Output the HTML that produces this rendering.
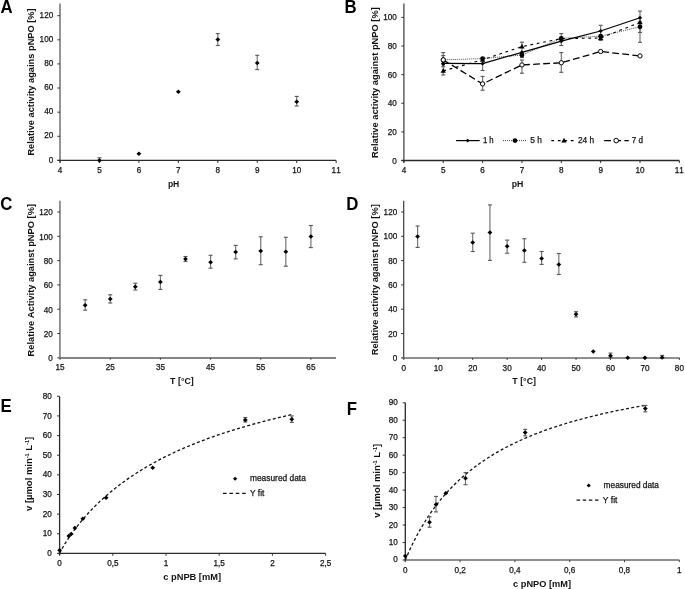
<!DOCTYPE html>
<html><head><meta charset="utf-8"><title>Figure</title>
<style>
html,body{margin:0;padding:0;background:#fff;}
body{width:685px;height:589px;overflow:hidden;}
svg{display:block;font-family:"Liberation Sans",sans-serif;will-change:transform;font-variant-ligatures:none;font-kerning:none;}
</style></head><body>
<svg width="685" height="589" viewBox="0 0 685 589">
<rect width="685" height="589" fill="#fff"/>
<line x1="60" y1="3.5" x2="60" y2="162.8" stroke="#8a8a8a" stroke-width="1.8"/>
<line x1="57.4" y1="160.4" x2="60" y2="160.4" stroke="#333" stroke-width="1"/>
<text x="53.2" y="162.6" font-size="8.5" text-anchor="end" fill="#111" stroke="#111" stroke-width="0.25" textLength="4.53" lengthAdjust="spacingAndGlyphs">0</text>
<line x1="57.4" y1="136.28" x2="60" y2="136.28" stroke="#333" stroke-width="1"/>
<text x="53.2" y="138.48" font-size="8.5" text-anchor="end" fill="#111" stroke="#111" stroke-width="0.25" textLength="9.06" lengthAdjust="spacingAndGlyphs">20</text>
<line x1="57.4" y1="112.16" x2="60" y2="112.16" stroke="#333" stroke-width="1"/>
<text x="53.2" y="114.36" font-size="8.5" text-anchor="end" fill="#111" stroke="#111" stroke-width="0.25" textLength="9.06" lengthAdjust="spacingAndGlyphs">40</text>
<line x1="57.4" y1="88.04" x2="60" y2="88.04" stroke="#333" stroke-width="1"/>
<text x="53.2" y="90.24" font-size="8.5" text-anchor="end" fill="#111" stroke="#111" stroke-width="0.25" textLength="9.06" lengthAdjust="spacingAndGlyphs">60</text>
<line x1="57.4" y1="63.92" x2="60" y2="63.92" stroke="#333" stroke-width="1"/>
<text x="53.2" y="66.12" font-size="8.5" text-anchor="end" fill="#111" stroke="#111" stroke-width="0.25" textLength="9.06" lengthAdjust="spacingAndGlyphs">80</text>
<line x1="57.4" y1="39.8" x2="60" y2="39.8" stroke="#333" stroke-width="1"/>
<text x="53.2" y="42" font-size="8.5" text-anchor="end" fill="#111" stroke="#111" stroke-width="0.25" textLength="13.59" lengthAdjust="spacingAndGlyphs">100</text>
<line x1="57.4" y1="15.68" x2="60" y2="15.68" stroke="#333" stroke-width="1"/>
<text x="53.2" y="17.88" font-size="8.5" text-anchor="end" fill="#111" stroke="#111" stroke-width="0.25" textLength="13.59" lengthAdjust="spacingAndGlyphs">120</text>
<line x1="57.5" y1="160.4" x2="336.15" y2="160.4" stroke="#2a2a2a" stroke-width="1.3"/>
<line x1="60" y1="160.4" x2="60" y2="163" stroke="#333" stroke-width="1"/>
<text x="60" y="173" font-size="8.5" text-anchor="middle" fill="#111" stroke="#111" stroke-width="0.25" textLength="4.53" lengthAdjust="spacingAndGlyphs">4</text>
<line x1="99.45" y1="160.4" x2="99.45" y2="163" stroke="#333" stroke-width="1"/>
<text x="99.45" y="173" font-size="8.5" text-anchor="middle" fill="#111" stroke="#111" stroke-width="0.25" textLength="4.53" lengthAdjust="spacingAndGlyphs">5</text>
<line x1="138.9" y1="160.4" x2="138.9" y2="163" stroke="#333" stroke-width="1"/>
<text x="138.9" y="173" font-size="8.5" text-anchor="middle" fill="#111" stroke="#111" stroke-width="0.25" textLength="4.53" lengthAdjust="spacingAndGlyphs">6</text>
<line x1="178.35" y1="160.4" x2="178.35" y2="163" stroke="#333" stroke-width="1"/>
<text x="178.35" y="173" font-size="8.5" text-anchor="middle" fill="#111" stroke="#111" stroke-width="0.25" textLength="4.53" lengthAdjust="spacingAndGlyphs">7</text>
<line x1="217.8" y1="160.4" x2="217.8" y2="163" stroke="#333" stroke-width="1"/>
<text x="217.8" y="173" font-size="8.5" text-anchor="middle" fill="#111" stroke="#111" stroke-width="0.25" textLength="4.53" lengthAdjust="spacingAndGlyphs">8</text>
<line x1="257.25" y1="160.4" x2="257.25" y2="163" stroke="#333" stroke-width="1"/>
<text x="257.25" y="173" font-size="8.5" text-anchor="middle" fill="#111" stroke="#111" stroke-width="0.25" textLength="4.53" lengthAdjust="spacingAndGlyphs">9</text>
<line x1="296.7" y1="160.4" x2="296.7" y2="163" stroke="#333" stroke-width="1"/>
<text x="296.7" y="173" font-size="8.5" text-anchor="middle" fill="#111" stroke="#111" stroke-width="0.25" textLength="9.06" lengthAdjust="spacingAndGlyphs">10</text>
<line x1="336.15" y1="160.4" x2="336.15" y2="163" stroke="#333" stroke-width="1"/>
<text x="336.15" y="173" font-size="8.5" text-anchor="middle" fill="#111" stroke="#111" stroke-width="0.25" textLength="9.06" lengthAdjust="spacingAndGlyphs">11</text>
<line x1="99.45" y1="157.75" x2="99.45" y2="160.4" stroke="#777" stroke-width="1.2"/>
<line x1="97.45" y1="157.75" x2="101.45" y2="157.75" stroke="#555" stroke-width="1.1"/>
<line x1="97.45" y1="160.4" x2="101.45" y2="160.4" stroke="#555" stroke-width="1.1"/>
<line x1="217.8" y1="33.6" x2="217.8" y2="45.5" stroke="#777" stroke-width="1.2"/>
<line x1="215.8" y1="33.6" x2="219.8" y2="33.6" stroke="#555" stroke-width="1.1"/>
<line x1="215.8" y1="45.5" x2="219.8" y2="45.5" stroke="#555" stroke-width="1.1"/>
<line x1="257.25" y1="55.3" x2="257.25" y2="69.6" stroke="#777" stroke-width="1.2"/>
<line x1="255.25" y1="55.3" x2="259.25" y2="55.3" stroke="#555" stroke-width="1.1"/>
<line x1="255.25" y1="69.6" x2="259.25" y2="69.6" stroke="#555" stroke-width="1.1"/>
<line x1="296.7" y1="96.4" x2="296.7" y2="106" stroke="#777" stroke-width="1.2"/>
<line x1="294.7" y1="96.4" x2="298.7" y2="96.4" stroke="#555" stroke-width="1.1"/>
<line x1="294.7" y1="106" x2="298.7" y2="106" stroke="#555" stroke-width="1.1"/>
<path d="M99.45 158.17L101.85 160.4L99.45 162.63L97.05 160.4Z" fill="#000"/>
<path d="M138.9 151.53L141.3 153.77L138.9 156L136.5 153.77Z" fill="#000"/>
<path d="M178.35 89.55L180.75 91.78L178.35 94.01L175.95 91.78Z" fill="#000"/>
<path d="M217.8 37.33L220.2 39.56L217.8 41.79L215.4 39.56Z" fill="#000"/>
<path d="M257.25 60.72L259.65 62.96L257.25 65.19L254.85 62.96Z" fill="#000"/>
<path d="M296.7 99.44L299.1 101.67L296.7 103.9L294.3 101.67Z" fill="#000"/>
<text x="173.6" y="186.7" font-size="9.3" text-anchor="middle" fill="#111" font-weight="bold" textLength="11.4" lengthAdjust="spacingAndGlyphs">pH</text>
<text transform="translate(34,155.6) rotate(-90)" font-size="9.3" font-weight="bold" fill="#111" textLength="147.3" lengthAdjust="spacingAndGlyphs">Relative activity agains pNPO [%]</text>
<text transform="translate(0.4,12.9) scale(1,1.08)" font-size="16.8" font-weight="bold" fill="#000">A</text>
<line x1="403.9" y1="3.5" x2="403.9" y2="162.8" stroke="#3a3a3a" stroke-width="1.2"/>
<line x1="401.3" y1="160.5" x2="403.9" y2="160.5" stroke="#333" stroke-width="1"/>
<text x="396.9" y="163.5" font-size="8.5" text-anchor="end" fill="#111" stroke="#111" stroke-width="0.25" textLength="4.53" lengthAdjust="spacingAndGlyphs">0</text>
<line x1="401.3" y1="131.88" x2="403.9" y2="131.88" stroke="#333" stroke-width="1"/>
<text x="396.9" y="134.88" font-size="8.5" text-anchor="end" fill="#111" stroke="#111" stroke-width="0.25" textLength="9.06" lengthAdjust="spacingAndGlyphs">20</text>
<line x1="401.3" y1="103.26" x2="403.9" y2="103.26" stroke="#333" stroke-width="1"/>
<text x="396.9" y="106.26" font-size="8.5" text-anchor="end" fill="#111" stroke="#111" stroke-width="0.25" textLength="9.06" lengthAdjust="spacingAndGlyphs">40</text>
<line x1="401.3" y1="74.64" x2="403.9" y2="74.64" stroke="#333" stroke-width="1"/>
<text x="396.9" y="77.64" font-size="8.5" text-anchor="end" fill="#111" stroke="#111" stroke-width="0.25" textLength="9.06" lengthAdjust="spacingAndGlyphs">60</text>
<line x1="401.3" y1="46.02" x2="403.9" y2="46.02" stroke="#333" stroke-width="1"/>
<text x="396.9" y="49.02" font-size="8.5" text-anchor="end" fill="#111" stroke="#111" stroke-width="0.25" textLength="9.06" lengthAdjust="spacingAndGlyphs">80</text>
<line x1="401.3" y1="17.4" x2="403.9" y2="17.4" stroke="#333" stroke-width="1"/>
<text x="396.9" y="20.4" font-size="8.5" text-anchor="end" fill="#111" stroke="#111" stroke-width="0.25" textLength="13.59" lengthAdjust="spacingAndGlyphs">100</text>
<line x1="401.5" y1="160.5" x2="679.35" y2="160.5" stroke="#2a2a2a" stroke-width="1.3"/>
<line x1="403.9" y1="160.5" x2="403.9" y2="163.1" stroke="#333" stroke-width="1"/>
<text x="403.9" y="173" font-size="8.5" text-anchor="middle" fill="#111" stroke="#111" stroke-width="0.25" textLength="4.53" lengthAdjust="spacingAndGlyphs">4</text>
<line x1="443.25" y1="160.5" x2="443.25" y2="163.1" stroke="#333" stroke-width="1"/>
<text x="443.25" y="173" font-size="8.5" text-anchor="middle" fill="#111" stroke="#111" stroke-width="0.25" textLength="4.53" lengthAdjust="spacingAndGlyphs">5</text>
<line x1="482.6" y1="160.5" x2="482.6" y2="163.1" stroke="#333" stroke-width="1"/>
<text x="482.6" y="173" font-size="8.5" text-anchor="middle" fill="#111" stroke="#111" stroke-width="0.25" textLength="4.53" lengthAdjust="spacingAndGlyphs">6</text>
<line x1="521.95" y1="160.5" x2="521.95" y2="163.1" stroke="#333" stroke-width="1"/>
<text x="521.95" y="173" font-size="8.5" text-anchor="middle" fill="#111" stroke="#111" stroke-width="0.25" textLength="4.53" lengthAdjust="spacingAndGlyphs">7</text>
<line x1="561.3" y1="160.5" x2="561.3" y2="163.1" stroke="#333" stroke-width="1"/>
<text x="561.3" y="173" font-size="8.5" text-anchor="middle" fill="#111" stroke="#111" stroke-width="0.25" textLength="4.53" lengthAdjust="spacingAndGlyphs">8</text>
<line x1="600.65" y1="160.5" x2="600.65" y2="163.1" stroke="#333" stroke-width="1"/>
<text x="600.65" y="173" font-size="8.5" text-anchor="middle" fill="#111" stroke="#111" stroke-width="0.25" textLength="4.53" lengthAdjust="spacingAndGlyphs">9</text>
<line x1="640" y1="160.5" x2="640" y2="163.1" stroke="#333" stroke-width="1"/>
<text x="640" y="173" font-size="8.5" text-anchor="middle" fill="#111" stroke="#111" stroke-width="0.25" textLength="9.06" lengthAdjust="spacingAndGlyphs">10</text>
<line x1="679.35" y1="160.5" x2="679.35" y2="163.1" stroke="#333" stroke-width="1"/>
<text x="679.35" y="173" font-size="8.5" text-anchor="middle" fill="#111" stroke="#111" stroke-width="0.25" textLength="9.06" lengthAdjust="spacingAndGlyphs">11</text>
<line x1="443.25" y1="52.6" x2="443.25" y2="66.7" stroke="#777" stroke-width="1.2"/>
<line x1="441.25" y1="52.6" x2="445.25" y2="52.6" stroke="#555" stroke-width="1.1"/>
<line x1="441.25" y1="66.7" x2="445.25" y2="66.7" stroke="#555" stroke-width="1.1"/>
<line x1="443.25" y1="55.6" x2="443.25" y2="75" stroke="#777" stroke-width="1.2"/>
<line x1="441.25" y1="55.6" x2="445.25" y2="55.6" stroke="#555" stroke-width="1.1"/>
<line x1="441.25" y1="75" x2="445.25" y2="75" stroke="#555" stroke-width="1.1"/>
<line x1="482.6" y1="58" x2="482.6" y2="70.5" stroke="#777" stroke-width="1.2"/>
<line x1="480.6" y1="58" x2="484.6" y2="58" stroke="#555" stroke-width="1.1"/>
<line x1="480.6" y1="70.5" x2="484.6" y2="70.5" stroke="#555" stroke-width="1.1"/>
<line x1="482.6" y1="76.4" x2="482.6" y2="90.2" stroke="#777" stroke-width="1.2"/>
<line x1="480.6" y1="76.4" x2="484.6" y2="76.4" stroke="#555" stroke-width="1.1"/>
<line x1="480.6" y1="90.2" x2="484.6" y2="90.2" stroke="#555" stroke-width="1.1"/>
<line x1="521.95" y1="42.2" x2="521.95" y2="57.5" stroke="#777" stroke-width="1.2"/>
<line x1="519.95" y1="42.2" x2="523.95" y2="42.2" stroke="#555" stroke-width="1.1"/>
<line x1="519.95" y1="57.5" x2="523.95" y2="57.5" stroke="#555" stroke-width="1.1"/>
<line x1="521.95" y1="60" x2="521.95" y2="73.2" stroke="#777" stroke-width="1.2"/>
<line x1="519.95" y1="60" x2="523.95" y2="60" stroke="#555" stroke-width="1.1"/>
<line x1="519.95" y1="73.2" x2="523.95" y2="73.2" stroke="#555" stroke-width="1.1"/>
<line x1="561.3" y1="33.6" x2="561.3" y2="45.5" stroke="#777" stroke-width="1.2"/>
<line x1="559.3" y1="33.6" x2="563.3" y2="33.6" stroke="#555" stroke-width="1.1"/>
<line x1="559.3" y1="45.5" x2="563.3" y2="45.5" stroke="#555" stroke-width="1.1"/>
<line x1="561.3" y1="52.6" x2="561.3" y2="72.3" stroke="#777" stroke-width="1.2"/>
<line x1="559.3" y1="52.6" x2="563.3" y2="52.6" stroke="#555" stroke-width="1.1"/>
<line x1="559.3" y1="72.3" x2="563.3" y2="72.3" stroke="#555" stroke-width="1.1"/>
<line x1="600.65" y1="25.3" x2="600.65" y2="40.4" stroke="#777" stroke-width="1.2"/>
<line x1="598.65" y1="25.3" x2="602.65" y2="25.3" stroke="#555" stroke-width="1.1"/>
<line x1="598.65" y1="40.4" x2="602.65" y2="40.4" stroke="#555" stroke-width="1.1"/>
<line x1="640" y1="11.1" x2="640" y2="42.3" stroke="#777" stroke-width="1.2"/>
<line x1="638" y1="11.1" x2="642" y2="11.1" stroke="#555" stroke-width="1.1"/>
<line x1="638" y1="42.3" x2="642" y2="42.3" stroke="#555" stroke-width="1.1"/>
<line x1="640" y1="22" x2="640" y2="32.4" stroke="#777" stroke-width="1.2"/>
<line x1="638" y1="22" x2="642" y2="22" stroke="#555" stroke-width="1.1"/>
<line x1="638" y1="32.4" x2="642" y2="32.4" stroke="#555" stroke-width="1.1"/>
<polyline points="443.25,59.9 482.6,83.9 521.95,64.9 561.3,62.8 600.65,51.5 640,55.9" fill="none" stroke="#000" stroke-width="1.3" stroke-dasharray="6.8,3.3"/>
<polyline points="443.25,70.9 482.6,59.8 521.95,46.6 561.3,38.6 600.65,38 640,22.4" fill="none" stroke="#000" stroke-width="1.1" stroke-dasharray="2.8,3.7"/>
<polyline points="443.25,59.8 482.6,58.6 521.95,55 561.3,38.3 600.65,36.2 640,26.8" fill="none" stroke="#333" stroke-width="0.9" stroke-dasharray="1,1"/>
<polyline points="443.25,63.4 482.6,63.6 521.95,52.3 561.3,41.2 600.65,31 640,17.8" fill="none" stroke="#000" stroke-width="1.2"/>
<path d="M443.25 68.1L445.91 72.86L440.59 72.86Z" fill="#000"/>
<path d="M482.6 57L485.26 61.76L479.94 61.76Z" fill="#000"/>
<path d="M521.95 43.8L524.61 48.56L519.29 48.56Z" fill="#000"/>
<path d="M561.3 35.8L563.96 40.56L558.64 40.56Z" fill="#000"/>
<path d="M600.65 35.2L603.31 39.96L597.99 39.96Z" fill="#000"/>
<path d="M640 19.6L642.66 24.36L637.34 24.36Z" fill="#000"/>
<circle cx="443.25" cy="59.8" r="2.4" fill="#000"/>
<circle cx="482.6" cy="58.6" r="2.4" fill="#000"/>
<circle cx="521.95" cy="55" r="2.4" fill="#000"/>
<circle cx="561.3" cy="38.3" r="2.4" fill="#000"/>
<circle cx="600.65" cy="36.2" r="2.4" fill="#000"/>
<circle cx="640" cy="26.8" r="2.4" fill="#000"/>
<path d="M443.25 61.4L445.4 63.4L443.25 65.4L441.1 63.4Z" fill="#000"/>
<path d="M482.6 61.6L484.75 63.6L482.6 65.6L480.45 63.6Z" fill="#000"/>
<path d="M521.95 50.3L524.1 52.3L521.95 54.3L519.8 52.3Z" fill="#000"/>
<path d="M561.3 39.2L563.45 41.2L561.3 43.2L559.15 41.2Z" fill="#000"/>
<path d="M600.65 29L602.8 31L600.65 33L598.5 31Z" fill="#000"/>
<path d="M640 15.8L642.15 17.8L640 19.8L637.85 17.8Z" fill="#000"/>
<circle cx="443.25" cy="63.8" r="1.9" fill="#000"/>
<circle cx="443.25" cy="59.9" r="2.15" fill="#fff" stroke="#000" stroke-width="1"/>
<circle cx="482.6" cy="83.9" r="2.15" fill="#fff" stroke="#000" stroke-width="1"/>
<circle cx="521.95" cy="64.9" r="2.15" fill="#fff" stroke="#000" stroke-width="1"/>
<circle cx="561.3" cy="62.8" r="2.15" fill="#fff" stroke="#000" stroke-width="1"/>
<circle cx="600.65" cy="51.5" r="2.15" fill="#fff" stroke="#000" stroke-width="1"/>
<circle cx="640" cy="55.9" r="2.15" fill="#fff" stroke="#000" stroke-width="1"/>
<line x1="456.1" y1="140.6" x2="479.7" y2="140.6" stroke="#000" stroke-width="1.2"/>
<path d="M467.7 138.65L469.8 140.6L467.7 142.55L465.6 140.6Z" fill="#000"/>
<text x="482.9" y="142.6" font-size="8.5" text-anchor="start" fill="#111" stroke="#111" stroke-width="0.25" textLength="10.8" lengthAdjust="spacingAndGlyphs">1 h</text>
<line x1="503" y1="140.6" x2="527.1" y2="140.6" stroke="#333" stroke-width="0.9" stroke-dasharray="1,1"/>
<circle cx="515" cy="140.6" r="2.4" fill="#000"/>
<text x="530.3" y="142.6" font-size="8.5" text-anchor="start" fill="#111" stroke="#111" stroke-width="0.25" textLength="11.6" lengthAdjust="spacingAndGlyphs">5 h</text>
<line x1="551.3" y1="140.6" x2="573.9" y2="140.6" stroke="#000" stroke-width="1.1" stroke-dasharray="2.8,3.7"/>
<path d="M564 137.8L566.66 142.56L561.34 142.56Z" fill="#000"/>
<text x="577.9" y="142.6" font-size="8.5" text-anchor="start" fill="#111" stroke="#111" stroke-width="0.25" textLength="16.2" lengthAdjust="spacingAndGlyphs">24 h</text>
<line x1="604.2" y1="140.6" x2="628.8" y2="140.6" stroke="#000" stroke-width="1.3" stroke-dasharray="6.8,3.3"/>
<circle cx="616.2" cy="140.6" r="2.3" fill="#fff" stroke="#000" stroke-width="1"/>
<text x="631.7" y="142.6" font-size="8.5" text-anchor="start" fill="#111" stroke="#111" stroke-width="0.25" textLength="11.3" lengthAdjust="spacingAndGlyphs">7 d</text>
<text x="517.6" y="186.7" font-size="9.3" text-anchor="middle" fill="#111" font-weight="bold" textLength="11.7" lengthAdjust="spacingAndGlyphs">pH</text>
<text transform="translate(377.5,158) rotate(-90)" font-size="9.3" font-weight="bold" fill="#111" textLength="150.8" lengthAdjust="spacingAndGlyphs">Relative activity against pNPO [%]</text>
<text transform="translate(344.6,12.8) scale(1,1.08)" font-size="16.8" font-weight="bold" fill="#000">B</text>
<line x1="59.9" y1="200.7" x2="59.9" y2="358.4" stroke="#8a8a8a" stroke-width="1.8"/>
<line x1="57.3" y1="357.8" x2="59.9" y2="357.8" stroke="#333" stroke-width="1"/>
<text x="52.9" y="361.2" font-size="8.5" text-anchor="end" fill="#111" stroke="#111" stroke-width="0.25" textLength="4.53" lengthAdjust="spacingAndGlyphs">0</text>
<line x1="57.3" y1="333.5" x2="59.9" y2="333.5" stroke="#333" stroke-width="1"/>
<text x="52.9" y="336.9" font-size="8.5" text-anchor="end" fill="#111" stroke="#111" stroke-width="0.25" textLength="9.06" lengthAdjust="spacingAndGlyphs">20</text>
<line x1="57.3" y1="309.2" x2="59.9" y2="309.2" stroke="#333" stroke-width="1"/>
<text x="52.9" y="312.6" font-size="8.5" text-anchor="end" fill="#111" stroke="#111" stroke-width="0.25" textLength="9.06" lengthAdjust="spacingAndGlyphs">40</text>
<line x1="57.3" y1="284.9" x2="59.9" y2="284.9" stroke="#333" stroke-width="1"/>
<text x="52.9" y="288.3" font-size="8.5" text-anchor="end" fill="#111" stroke="#111" stroke-width="0.25" textLength="9.06" lengthAdjust="spacingAndGlyphs">60</text>
<line x1="57.3" y1="260.6" x2="59.9" y2="260.6" stroke="#333" stroke-width="1"/>
<text x="52.9" y="264" font-size="8.5" text-anchor="end" fill="#111" stroke="#111" stroke-width="0.25" textLength="9.06" lengthAdjust="spacingAndGlyphs">80</text>
<line x1="57.3" y1="236.3" x2="59.9" y2="236.3" stroke="#333" stroke-width="1"/>
<text x="52.9" y="239.7" font-size="8.5" text-anchor="end" fill="#111" stroke="#111" stroke-width="0.25" textLength="13.59" lengthAdjust="spacingAndGlyphs">100</text>
<line x1="57.3" y1="212" x2="59.9" y2="212" stroke="#333" stroke-width="1"/>
<text x="52.9" y="215.4" font-size="8.5" text-anchor="end" fill="#111" stroke="#111" stroke-width="0.25" textLength="13.59" lengthAdjust="spacingAndGlyphs">120</text>
<line x1="58.4" y1="358" x2="335.98" y2="358" stroke="#848484" stroke-width="1.9"/>
<line x1="60.1" y1="357.8" x2="60.1" y2="359.8" stroke="#444" stroke-width="1"/>
<text x="60.1" y="370.3" font-size="8.5" text-anchor="middle" fill="#111" stroke="#111" stroke-width="0.25" textLength="9.06" lengthAdjust="spacingAndGlyphs">15</text>
<line x1="110.26" y1="357.8" x2="110.26" y2="359.8" stroke="#444" stroke-width="1"/>
<text x="110.26" y="370.3" font-size="8.5" text-anchor="middle" fill="#111" stroke="#111" stroke-width="0.25" textLength="9.06" lengthAdjust="spacingAndGlyphs">25</text>
<line x1="160.42" y1="357.8" x2="160.42" y2="359.8" stroke="#444" stroke-width="1"/>
<text x="160.42" y="370.3" font-size="8.5" text-anchor="middle" fill="#111" stroke="#111" stroke-width="0.25" textLength="9.06" lengthAdjust="spacingAndGlyphs">35</text>
<line x1="210.58" y1="357.8" x2="210.58" y2="359.8" stroke="#444" stroke-width="1"/>
<text x="210.58" y="370.3" font-size="8.5" text-anchor="middle" fill="#111" stroke="#111" stroke-width="0.25" textLength="9.06" lengthAdjust="spacingAndGlyphs">45</text>
<line x1="260.74" y1="357.8" x2="260.74" y2="359.8" stroke="#444" stroke-width="1"/>
<text x="260.74" y="370.3" font-size="8.5" text-anchor="middle" fill="#111" stroke="#111" stroke-width="0.25" textLength="9.06" lengthAdjust="spacingAndGlyphs">55</text>
<line x1="310.9" y1="357.8" x2="310.9" y2="359.8" stroke="#444" stroke-width="1"/>
<text x="310.9" y="370.3" font-size="8.5" text-anchor="middle" fill="#111" stroke="#111" stroke-width="0.25" textLength="9.06" lengthAdjust="spacingAndGlyphs">65</text>
<line x1="85.18" y1="299.8" x2="85.18" y2="310.2" stroke="#777" stroke-width="1.2"/>
<line x1="83.18" y1="299.8" x2="87.18" y2="299.8" stroke="#555" stroke-width="1.1"/>
<line x1="83.18" y1="310.2" x2="87.18" y2="310.2" stroke="#555" stroke-width="1.1"/>
<line x1="110.26" y1="294.8" x2="110.26" y2="303" stroke="#777" stroke-width="1.2"/>
<line x1="108.26" y1="294.8" x2="112.26" y2="294.8" stroke="#555" stroke-width="1.1"/>
<line x1="108.26" y1="303" x2="112.26" y2="303" stroke="#555" stroke-width="1.1"/>
<line x1="135.34" y1="283.2" x2="135.34" y2="290" stroke="#777" stroke-width="1.2"/>
<line x1="133.34" y1="283.2" x2="137.34" y2="283.2" stroke="#555" stroke-width="1.1"/>
<line x1="133.34" y1="290" x2="137.34" y2="290" stroke="#555" stroke-width="1.1"/>
<line x1="160.42" y1="275.4" x2="160.42" y2="289.4" stroke="#777" stroke-width="1.2"/>
<line x1="158.42" y1="275.4" x2="162.42" y2="275.4" stroke="#555" stroke-width="1.1"/>
<line x1="158.42" y1="289.4" x2="162.42" y2="289.4" stroke="#555" stroke-width="1.1"/>
<line x1="185.5" y1="256.5" x2="185.5" y2="261.4" stroke="#777" stroke-width="1.2"/>
<line x1="183.5" y1="256.5" x2="187.5" y2="256.5" stroke="#555" stroke-width="1.1"/>
<line x1="183.5" y1="261.4" x2="187.5" y2="261.4" stroke="#555" stroke-width="1.1"/>
<line x1="210.58" y1="255.3" x2="210.58" y2="268.2" stroke="#777" stroke-width="1.2"/>
<line x1="208.58" y1="255.3" x2="212.58" y2="255.3" stroke="#555" stroke-width="1.1"/>
<line x1="208.58" y1="268.2" x2="212.58" y2="268.2" stroke="#555" stroke-width="1.1"/>
<line x1="235.66" y1="245.4" x2="235.66" y2="258.9" stroke="#777" stroke-width="1.2"/>
<line x1="233.66" y1="245.4" x2="237.66" y2="245.4" stroke="#555" stroke-width="1.1"/>
<line x1="233.66" y1="258.9" x2="237.66" y2="258.9" stroke="#555" stroke-width="1.1"/>
<line x1="260.74" y1="236.8" x2="260.74" y2="264.7" stroke="#777" stroke-width="1.2"/>
<line x1="258.74" y1="236.8" x2="262.74" y2="236.8" stroke="#555" stroke-width="1.1"/>
<line x1="258.74" y1="264.7" x2="262.74" y2="264.7" stroke="#555" stroke-width="1.1"/>
<line x1="285.82" y1="237.3" x2="285.82" y2="266.2" stroke="#777" stroke-width="1.2"/>
<line x1="283.82" y1="237.3" x2="287.82" y2="237.3" stroke="#555" stroke-width="1.1"/>
<line x1="283.82" y1="266.2" x2="287.82" y2="266.2" stroke="#555" stroke-width="1.1"/>
<line x1="310.9" y1="225.5" x2="310.9" y2="247.6" stroke="#777" stroke-width="1.2"/>
<line x1="308.9" y1="225.5" x2="312.9" y2="225.5" stroke="#555" stroke-width="1.1"/>
<line x1="308.9" y1="247.6" x2="312.9" y2="247.6" stroke="#555" stroke-width="1.1"/>
<path d="M85.18 302.97L87.58 305.2L85.18 307.43L82.78 305.2Z" fill="#000"/>
<path d="M110.26 296.77L112.66 299L110.26 301.23L107.86 299Z" fill="#000"/>
<path d="M135.34 284.47L137.74 286.7L135.34 288.93L132.94 286.7Z" fill="#000"/>
<path d="M160.42 279.87L162.82 282.1L160.42 284.33L158.02 282.1Z" fill="#000"/>
<path d="M185.5 256.67L187.9 258.9L185.5 261.13L183.1 258.9Z" fill="#000"/>
<path d="M210.58 259.97L212.98 262.2L210.58 264.43L208.18 262.2Z" fill="#000"/>
<path d="M235.66 249.87L238.06 252.1L235.66 254.33L233.26 252.1Z" fill="#000"/>
<path d="M260.74 248.67L263.14 250.9L260.74 253.13L258.34 250.9Z" fill="#000"/>
<path d="M285.82 249.57L288.22 251.8L285.82 254.03L283.42 251.8Z" fill="#000"/>
<path d="M310.9 234.17L313.3 236.4L310.9 238.63L308.5 236.4Z" fill="#000"/>
<text x="181.95" y="383.5" font-size="9.3" text-anchor="middle" fill="#111" font-weight="bold" textLength="23.7" lengthAdjust="spacingAndGlyphs">T [°C]</text>
<text transform="translate(34.4,356.4) rotate(-90)" font-size="9.3" font-weight="bold" fill="#111" textLength="152.4" lengthAdjust="spacingAndGlyphs">Relative Activity against pNPO [%]</text>
<text transform="translate(0.2,209.5) scale(1,1.08)" font-size="16.8" font-weight="bold" fill="#000">C</text>
<line x1="403.7" y1="200.7" x2="403.7" y2="358.4" stroke="#3a3a3a" stroke-width="1.2"/>
<line x1="401.1" y1="357.8" x2="403.7" y2="357.8" stroke="#333" stroke-width="1"/>
<text x="397.2" y="360.8" font-size="8.5" text-anchor="end" fill="#111" stroke="#111" stroke-width="0.25" textLength="4.53" lengthAdjust="spacingAndGlyphs">0</text>
<line x1="401.1" y1="333.5" x2="403.7" y2="333.5" stroke="#333" stroke-width="1"/>
<text x="397.2" y="336.5" font-size="8.5" text-anchor="end" fill="#111" stroke="#111" stroke-width="0.25" textLength="9.06" lengthAdjust="spacingAndGlyphs">20</text>
<line x1="401.1" y1="309.2" x2="403.7" y2="309.2" stroke="#333" stroke-width="1"/>
<text x="397.2" y="312.2" font-size="8.5" text-anchor="end" fill="#111" stroke="#111" stroke-width="0.25" textLength="9.06" lengthAdjust="spacingAndGlyphs">40</text>
<line x1="401.1" y1="284.9" x2="403.7" y2="284.9" stroke="#333" stroke-width="1"/>
<text x="397.2" y="287.9" font-size="8.5" text-anchor="end" fill="#111" stroke="#111" stroke-width="0.25" textLength="9.06" lengthAdjust="spacingAndGlyphs">60</text>
<line x1="401.1" y1="260.6" x2="403.7" y2="260.6" stroke="#333" stroke-width="1"/>
<text x="397.2" y="263.6" font-size="8.5" text-anchor="end" fill="#111" stroke="#111" stroke-width="0.25" textLength="9.06" lengthAdjust="spacingAndGlyphs">80</text>
<line x1="401.1" y1="236.3" x2="403.7" y2="236.3" stroke="#333" stroke-width="1"/>
<text x="397.2" y="239.3" font-size="8.5" text-anchor="end" fill="#111" stroke="#111" stroke-width="0.25" textLength="13.59" lengthAdjust="spacingAndGlyphs">100</text>
<line x1="401.1" y1="212" x2="403.7" y2="212" stroke="#333" stroke-width="1"/>
<text x="397.2" y="215" font-size="8.5" text-anchor="end" fill="#111" stroke="#111" stroke-width="0.25" textLength="13.59" lengthAdjust="spacingAndGlyphs">120</text>
<line x1="402.2" y1="358" x2="679.4" y2="358" stroke="#6a6a6a" stroke-width="1.6"/>
<line x1="403.8" y1="357.8" x2="403.8" y2="360" stroke="#444" stroke-width="1"/>
<text x="403.8" y="370.9" font-size="8.5" text-anchor="middle" fill="#111" stroke="#111" stroke-width="0.25" textLength="4.53" lengthAdjust="spacingAndGlyphs">0</text>
<line x1="438.25" y1="357.8" x2="438.25" y2="360" stroke="#444" stroke-width="1"/>
<text x="438.25" y="370.9" font-size="8.5" text-anchor="middle" fill="#111" stroke="#111" stroke-width="0.25" textLength="9.06" lengthAdjust="spacingAndGlyphs">10</text>
<line x1="472.7" y1="357.8" x2="472.7" y2="360" stroke="#444" stroke-width="1"/>
<text x="472.7" y="370.9" font-size="8.5" text-anchor="middle" fill="#111" stroke="#111" stroke-width="0.25" textLength="9.06" lengthAdjust="spacingAndGlyphs">20</text>
<line x1="507.15" y1="357.8" x2="507.15" y2="360" stroke="#444" stroke-width="1"/>
<text x="507.15" y="370.9" font-size="8.5" text-anchor="middle" fill="#111" stroke="#111" stroke-width="0.25" textLength="9.06" lengthAdjust="spacingAndGlyphs">30</text>
<line x1="541.6" y1="357.8" x2="541.6" y2="360" stroke="#444" stroke-width="1"/>
<text x="541.6" y="370.9" font-size="8.5" text-anchor="middle" fill="#111" stroke="#111" stroke-width="0.25" textLength="9.06" lengthAdjust="spacingAndGlyphs">40</text>
<line x1="576.05" y1="357.8" x2="576.05" y2="360" stroke="#444" stroke-width="1"/>
<text x="576.05" y="370.9" font-size="8.5" text-anchor="middle" fill="#111" stroke="#111" stroke-width="0.25" textLength="9.06" lengthAdjust="spacingAndGlyphs">50</text>
<line x1="610.5" y1="357.8" x2="610.5" y2="360" stroke="#444" stroke-width="1"/>
<text x="610.5" y="370.9" font-size="8.5" text-anchor="middle" fill="#111" stroke="#111" stroke-width="0.25" textLength="9.06" lengthAdjust="spacingAndGlyphs">60</text>
<line x1="644.95" y1="357.8" x2="644.95" y2="360" stroke="#444" stroke-width="1"/>
<text x="644.95" y="370.9" font-size="8.5" text-anchor="middle" fill="#111" stroke="#111" stroke-width="0.25" textLength="9.06" lengthAdjust="spacingAndGlyphs">70</text>
<line x1="679.4" y1="357.8" x2="679.4" y2="360" stroke="#444" stroke-width="1"/>
<text x="679.4" y="370.9" font-size="8.5" text-anchor="middle" fill="#111" stroke="#111" stroke-width="0.25" textLength="9.06" lengthAdjust="spacingAndGlyphs">80</text>
<line x1="417.58" y1="226" x2="417.58" y2="247.4" stroke="#777" stroke-width="1.2"/>
<line x1="415.58" y1="226" x2="419.58" y2="226" stroke="#555" stroke-width="1.1"/>
<line x1="415.58" y1="247.4" x2="419.58" y2="247.4" stroke="#555" stroke-width="1.1"/>
<line x1="472.7" y1="233.2" x2="472.7" y2="251.5" stroke="#777" stroke-width="1.2"/>
<line x1="470.7" y1="233.2" x2="474.7" y2="233.2" stroke="#555" stroke-width="1.1"/>
<line x1="470.7" y1="251.5" x2="474.7" y2="251.5" stroke="#555" stroke-width="1.1"/>
<line x1="489.93" y1="204.9" x2="489.93" y2="260.4" stroke="#777" stroke-width="1.2"/>
<line x1="487.93" y1="204.9" x2="491.93" y2="204.9" stroke="#555" stroke-width="1.1"/>
<line x1="487.93" y1="260.4" x2="491.93" y2="260.4" stroke="#555" stroke-width="1.1"/>
<line x1="507.15" y1="240.1" x2="507.15" y2="253.2" stroke="#777" stroke-width="1.2"/>
<line x1="505.15" y1="240.1" x2="509.15" y2="240.1" stroke="#555" stroke-width="1.1"/>
<line x1="505.15" y1="253.2" x2="509.15" y2="253.2" stroke="#555" stroke-width="1.1"/>
<line x1="524.38" y1="238.7" x2="524.38" y2="262.3" stroke="#777" stroke-width="1.2"/>
<line x1="522.38" y1="238.7" x2="526.38" y2="238.7" stroke="#555" stroke-width="1.1"/>
<line x1="522.38" y1="262.3" x2="526.38" y2="262.3" stroke="#555" stroke-width="1.1"/>
<line x1="541.6" y1="251.5" x2="541.6" y2="264.4" stroke="#777" stroke-width="1.2"/>
<line x1="539.6" y1="251.5" x2="543.6" y2="251.5" stroke="#555" stroke-width="1.1"/>
<line x1="539.6" y1="264.4" x2="543.6" y2="264.4" stroke="#555" stroke-width="1.1"/>
<line x1="558.83" y1="253.5" x2="558.83" y2="274.5" stroke="#777" stroke-width="1.2"/>
<line x1="556.83" y1="253.5" x2="560.83" y2="253.5" stroke="#555" stroke-width="1.1"/>
<line x1="556.83" y1="274.5" x2="560.83" y2="274.5" stroke="#555" stroke-width="1.1"/>
<line x1="576.05" y1="311.7" x2="576.05" y2="316.9" stroke="#777" stroke-width="1.2"/>
<line x1="574.05" y1="311.7" x2="578.05" y2="311.7" stroke="#555" stroke-width="1.1"/>
<line x1="574.05" y1="316.9" x2="578.05" y2="316.9" stroke="#555" stroke-width="1.1"/>
<line x1="610.5" y1="353.1" x2="610.5" y2="357.8" stroke="#777" stroke-width="1.2"/>
<line x1="608.5" y1="353.1" x2="612.5" y2="353.1" stroke="#555" stroke-width="1.1"/>
<line x1="608.5" y1="357.8" x2="612.5" y2="357.8" stroke="#555" stroke-width="1.1"/>
<line x1="662.17" y1="355.4" x2="662.17" y2="357.8" stroke="#777" stroke-width="1.2"/>
<line x1="660.17" y1="355.4" x2="664.17" y2="355.4" stroke="#555" stroke-width="1.1"/>
<line x1="660.17" y1="357.8" x2="664.17" y2="357.8" stroke="#555" stroke-width="1.1"/>
<path d="M417.58 234.17L419.98 236.4L417.58 238.63L415.18 236.4Z" fill="#000"/>
<path d="M472.7 240.17L475.1 242.4L472.7 244.63L470.3 242.4Z" fill="#000"/>
<path d="M489.93 230.17L492.32 232.4L489.93 234.63L487.53 232.4Z" fill="#000"/>
<path d="M507.15 244.07L509.55 246.3L507.15 248.53L504.75 246.3Z" fill="#000"/>
<path d="M524.38 248.27L526.77 250.5L524.38 252.73L521.98 250.5Z" fill="#000"/>
<path d="M541.6 256.27L544 258.5L541.6 260.73L539.2 258.5Z" fill="#000"/>
<path d="M558.83 262.17L561.23 264.4L558.83 266.63L556.43 264.4Z" fill="#000"/>
<path d="M576.05 311.97L578.45 314.2L576.05 316.43L573.65 314.2Z" fill="#000"/>
<path d="M593.27 349.17L595.67 351.4L593.27 353.63L590.88 351.4Z" fill="#000"/>
<path d="M610.5 353.57L612.9 355.8L610.5 358.03L608.1 355.8Z" fill="#000"/>
<path d="M627.73 355.57L630.12 357.8L627.73 360.03L625.33 357.8Z" fill="#000"/>
<path d="M644.95 355.57L647.35 357.8L644.95 360.03L642.55 357.8Z" fill="#000"/>
<path d="M662.17 355.37L664.57 357.6L662.17 359.83L659.77 357.6Z" fill="#000"/>
<text x="524.15" y="384" font-size="9.3" text-anchor="middle" fill="#111" font-weight="bold" textLength="23.7" lengthAdjust="spacingAndGlyphs">T [°C]</text>
<text transform="translate(377.5,355.3) rotate(-90)" font-size="9.3" font-weight="bold" fill="#111" textLength="151.1" lengthAdjust="spacingAndGlyphs">Relative activity against pNPO [%]</text>
<text transform="translate(346.3,210.2) scale(1,1.08)" font-size="16.8" font-weight="bold" fill="#000">D</text>
<line x1="59.6" y1="396.3" x2="59.6" y2="555.2" stroke="#2a2a2a" stroke-width="1.3"/>
<line x1="57" y1="553.4" x2="59.6" y2="553.4" stroke="#333" stroke-width="1"/>
<text x="51.7" y="556.05" font-size="8.5" text-anchor="end" fill="#111" stroke="#111" stroke-width="0.25" textLength="4.53" lengthAdjust="spacingAndGlyphs">0</text>
<line x1="57" y1="533.76" x2="59.6" y2="533.76" stroke="#333" stroke-width="1"/>
<text x="51.7" y="536.41" font-size="8.5" text-anchor="end" fill="#111" stroke="#111" stroke-width="0.25" textLength="9.06" lengthAdjust="spacingAndGlyphs">10</text>
<line x1="57" y1="514.12" x2="59.6" y2="514.12" stroke="#333" stroke-width="1"/>
<text x="51.7" y="516.77" font-size="8.5" text-anchor="end" fill="#111" stroke="#111" stroke-width="0.25" textLength="9.06" lengthAdjust="spacingAndGlyphs">20</text>
<line x1="57" y1="494.48" x2="59.6" y2="494.48" stroke="#333" stroke-width="1"/>
<text x="51.7" y="497.13" font-size="8.5" text-anchor="end" fill="#111" stroke="#111" stroke-width="0.25" textLength="9.06" lengthAdjust="spacingAndGlyphs">30</text>
<line x1="57" y1="474.84" x2="59.6" y2="474.84" stroke="#333" stroke-width="1"/>
<text x="51.7" y="477.49" font-size="8.5" text-anchor="end" fill="#111" stroke="#111" stroke-width="0.25" textLength="9.06" lengthAdjust="spacingAndGlyphs">40</text>
<line x1="57" y1="455.2" x2="59.6" y2="455.2" stroke="#333" stroke-width="1"/>
<text x="51.7" y="457.85" font-size="8.5" text-anchor="end" fill="#111" stroke="#111" stroke-width="0.25" textLength="9.06" lengthAdjust="spacingAndGlyphs">50</text>
<line x1="57" y1="435.56" x2="59.6" y2="435.56" stroke="#333" stroke-width="1"/>
<text x="51.7" y="438.21" font-size="8.5" text-anchor="end" fill="#111" stroke="#111" stroke-width="0.25" textLength="9.06" lengthAdjust="spacingAndGlyphs">60</text>
<line x1="57" y1="415.92" x2="59.6" y2="415.92" stroke="#333" stroke-width="1"/>
<text x="51.7" y="418.57" font-size="8.5" text-anchor="end" fill="#111" stroke="#111" stroke-width="0.25" textLength="9.06" lengthAdjust="spacingAndGlyphs">70</text>
<line x1="57" y1="396.28" x2="59.6" y2="396.28" stroke="#333" stroke-width="1"/>
<text x="51.7" y="398.93" font-size="8.5" text-anchor="end" fill="#111" stroke="#111" stroke-width="0.25" textLength="9.06" lengthAdjust="spacingAndGlyphs">80</text>
<line x1="58.1" y1="553.4" x2="325.6" y2="553.4" stroke="#2a2a2a" stroke-width="1.3"/>
<line x1="59.6" y1="553.4" x2="59.6" y2="555.8" stroke="#333" stroke-width="1"/>
<text x="59.6" y="566" font-size="8.5" text-anchor="middle" fill="#111" stroke="#111" stroke-width="0.25" textLength="4.53" lengthAdjust="spacingAndGlyphs">0</text>
<line x1="112.8" y1="553.4" x2="112.8" y2="555.8" stroke="#333" stroke-width="1"/>
<text x="112.8" y="566" font-size="8.5" text-anchor="middle" fill="#111" stroke="#111" stroke-width="0.25" textLength="11.33" lengthAdjust="spacingAndGlyphs">0,5</text>
<line x1="166" y1="553.4" x2="166" y2="555.8" stroke="#333" stroke-width="1"/>
<text x="166" y="566" font-size="8.5" text-anchor="middle" fill="#111" stroke="#111" stroke-width="0.25" textLength="4.53" lengthAdjust="spacingAndGlyphs">1</text>
<line x1="219.2" y1="553.4" x2="219.2" y2="555.8" stroke="#333" stroke-width="1"/>
<text x="219.2" y="566" font-size="8.5" text-anchor="middle" fill="#111" stroke="#111" stroke-width="0.25" textLength="11.33" lengthAdjust="spacingAndGlyphs">1,5</text>
<line x1="272.4" y1="553.4" x2="272.4" y2="555.8" stroke="#333" stroke-width="1"/>
<text x="272.4" y="566" font-size="8.5" text-anchor="middle" fill="#111" stroke="#111" stroke-width="0.25" textLength="4.53" lengthAdjust="spacingAndGlyphs">2</text>
<line x1="325.6" y1="553.4" x2="325.6" y2="555.8" stroke="#333" stroke-width="1"/>
<text x="325.6" y="566" font-size="8.5" text-anchor="middle" fill="#111" stroke="#111" stroke-width="0.25" textLength="11.33" lengthAdjust="spacingAndGlyphs">2,5</text>
<polyline points="59.6,553.4 59.83,552.88 60.26,552.02 60.81,550.96 61.46,549.76 62.2,548.44 63.02,547.02 63.91,545.52 64.86,543.96 65.88,542.33 66.95,540.65 68.08,538.92 69.26,537.16 70.5,535.37 71.78,533.55 73.11,531.71 74.48,529.85 75.9,527.97 77.35,526.08 78.85,524.19 80.39,522.29 81.97,520.39 83.59,518.48 85.24,516.58 86.93,514.68 88.66,512.79 90.42,510.9 92.22,509.02 94.05,507.15 95.91,505.29 97.8,503.44 99.73,501.6 101.68,499.78 103.67,497.97 105.69,496.17 107.74,494.39 109.82,492.63 111.92,490.88 114.06,489.15 116.22,487.43 118.41,485.74 120.63,484.06 122.88,482.4 125.15,480.75 127.45,479.13 129.78,477.52 132.13,475.93 134.51,474.36 136.91,472.81 139.34,471.27 141.8,469.76 144.27,468.26 146.78,466.79 149.3,465.33 151.85,463.88 154.43,462.46 157.03,461.06 159.65,459.67 162.29,458.3 164.96,456.95 167.65,455.62 170.36,454.3 173.1,453 175.85,451.72 178.63,450.45 181.43,449.2 184.25,447.97 187.1,446.76 189.96,445.56 192.85,444.37 195.76,443.2 198.69,442.05 201.63,440.91 204.6,439.79 207.59,438.69 210.6,437.59 213.63,436.52 216.68,435.45 219.75,434.4 222.84,433.37 225.95,432.35 229.08,431.34 232.23,430.35 235.4,429.37 238.58,428.4 241.79,427.44 245.01,426.5 248.26,425.57 251.52,424.65 254.8,423.75 258.1,422.86 261.42,421.97 264.75,421.1 268.11,420.24 271.48,419.4 274.87,418.56 278.28,417.74 281.7,416.92 285.14,416.12 288.61,415.32 292.08,414.54" fill="none" stroke="#111" stroke-width="1.3" stroke-dasharray="3,2.3"/>
<line x1="291.8" y1="415.9" x2="291.8" y2="422.4" stroke="#777" stroke-width="1.2"/>
<line x1="289.8" y1="415.9" x2="293.8" y2="415.9" stroke="#555" stroke-width="1.1"/>
<line x1="289.8" y1="422.4" x2="293.8" y2="422.4" stroke="#555" stroke-width="1.1"/>
<line x1="245.3" y1="417.5" x2="245.3" y2="422" stroke="#777" stroke-width="1.2"/>
<line x1="243.3" y1="417.5" x2="247.3" y2="417.5" stroke="#555" stroke-width="1.1"/>
<line x1="243.3" y1="422" x2="247.3" y2="422" stroke="#555" stroke-width="1.1"/>
<path d="M59.6 547.97L62 550.2L59.6 552.43L57.2 550.2Z" fill="#000"/>
<path d="M68.8 533.67L71.2 535.9L68.8 538.13L66.4 535.9Z" fill="#000"/>
<path d="M71.2 531.77L73.6 534L71.2 536.23L68.8 534Z" fill="#000"/>
<path d="M74.9 525.67L77.3 527.9L74.9 530.13L72.5 527.9Z" fill="#000"/>
<path d="M82.8 516.47L85.2 518.7L82.8 520.93L80.4 518.7Z" fill="#000"/>
<path d="M106.1 495.47L108.5 497.7L106.1 499.93L103.7 497.7Z" fill="#000"/>
<path d="M152.7 465.47L155.1 467.7L152.7 469.93L150.3 467.7Z" fill="#000"/>
<path d="M245.3 417.67L247.7 419.9L245.3 422.13L242.9 419.9Z" fill="#000"/>
<path d="M291.8 416.97L294.2 419.2L291.8 421.43L289.4 419.2Z" fill="#000"/>
<path d="M235.1 476.85L237.2 478.8L235.1 480.75L233 478.8Z" fill="#000"/>
<text x="250" y="481.4" font-size="8.5" text-anchor="start" fill="#111" stroke="#111" stroke-width="0.25" textLength="55.8" lengthAdjust="spacingAndGlyphs">measured data</text>
<line x1="223" y1="493.4" x2="245.7" y2="493.4" stroke="#111" stroke-width="1.3" stroke-dasharray="3.6,2.77"/>
<text x="250" y="496.3" font-size="8.5" text-anchor="start" fill="#111" stroke="#111" stroke-width="0.25" textLength="14.3" lengthAdjust="spacingAndGlyphs">Y f&#8204;it</text>
<text x="192.15" y="579.9" font-size="9.3" text-anchor="middle" fill="#111" font-weight="bold" textLength="57.7" lengthAdjust="spacingAndGlyphs">c pNPB [mM]</text>
<text transform="translate(32.3,511) rotate(-90)" font-size="9.3" font-weight="bold" fill="#111" textLength="74.2" lengthAdjust="spacingAndGlyphs">v [µmol min<tspan font-size="5.5" dy="-3">-1</tspan><tspan dy="3"> L</tspan><tspan font-size="5.5" dy="-3">-1</tspan><tspan dy="3">]</tspan></text>
<text transform="translate(0.5,412.1) scale(1,1.08)" font-size="16.8" font-weight="bold" fill="#000">E</text>
<line x1="405.3" y1="402.8" x2="405.3" y2="561.5" stroke="#2a2a2a" stroke-width="1.3"/>
<line x1="402.7" y1="560" x2="405.3" y2="560" stroke="#333" stroke-width="1"/>
<text x="397.9" y="562.45" font-size="8.5" text-anchor="end" fill="#111" stroke="#111" stroke-width="0.25" textLength="4.53" lengthAdjust="spacingAndGlyphs">0</text>
<line x1="402.7" y1="542.53" x2="405.3" y2="542.53" stroke="#333" stroke-width="1"/>
<text x="397.9" y="544.98" font-size="8.5" text-anchor="end" fill="#111" stroke="#111" stroke-width="0.25" textLength="9.06" lengthAdjust="spacingAndGlyphs">10</text>
<line x1="402.7" y1="525.06" x2="405.3" y2="525.06" stroke="#333" stroke-width="1"/>
<text x="397.9" y="527.51" font-size="8.5" text-anchor="end" fill="#111" stroke="#111" stroke-width="0.25" textLength="9.06" lengthAdjust="spacingAndGlyphs">20</text>
<line x1="402.7" y1="507.59" x2="405.3" y2="507.59" stroke="#333" stroke-width="1"/>
<text x="397.9" y="510.04" font-size="8.5" text-anchor="end" fill="#111" stroke="#111" stroke-width="0.25" textLength="9.06" lengthAdjust="spacingAndGlyphs">30</text>
<line x1="402.7" y1="490.12" x2="405.3" y2="490.12" stroke="#333" stroke-width="1"/>
<text x="397.9" y="492.57" font-size="8.5" text-anchor="end" fill="#111" stroke="#111" stroke-width="0.25" textLength="9.06" lengthAdjust="spacingAndGlyphs">40</text>
<line x1="402.7" y1="472.65" x2="405.3" y2="472.65" stroke="#333" stroke-width="1"/>
<text x="397.9" y="475.1" font-size="8.5" text-anchor="end" fill="#111" stroke="#111" stroke-width="0.25" textLength="9.06" lengthAdjust="spacingAndGlyphs">50</text>
<line x1="402.7" y1="455.18" x2="405.3" y2="455.18" stroke="#333" stroke-width="1"/>
<text x="397.9" y="457.63" font-size="8.5" text-anchor="end" fill="#111" stroke="#111" stroke-width="0.25" textLength="9.06" lengthAdjust="spacingAndGlyphs">60</text>
<line x1="402.7" y1="437.71" x2="405.3" y2="437.71" stroke="#333" stroke-width="1"/>
<text x="397.9" y="440.16" font-size="8.5" text-anchor="end" fill="#111" stroke="#111" stroke-width="0.25" textLength="9.06" lengthAdjust="spacingAndGlyphs">70</text>
<line x1="402.7" y1="420.24" x2="405.3" y2="420.24" stroke="#333" stroke-width="1"/>
<text x="397.9" y="422.69" font-size="8.5" text-anchor="end" fill="#111" stroke="#111" stroke-width="0.25" textLength="9.06" lengthAdjust="spacingAndGlyphs">80</text>
<line x1="402.7" y1="402.77" x2="405.3" y2="402.77" stroke="#333" stroke-width="1"/>
<text x="397.9" y="405.22" font-size="8.5" text-anchor="end" fill="#111" stroke="#111" stroke-width="0.25" textLength="9.06" lengthAdjust="spacingAndGlyphs">90</text>
<line x1="403.8" y1="560" x2="679.3" y2="560" stroke="#6a6a6a" stroke-width="1.6"/>
<line x1="405.3" y1="560" x2="405.3" y2="562.2" stroke="#444" stroke-width="1"/>
<text x="405.3" y="572.7" font-size="8.5" text-anchor="middle" fill="#111" stroke="#111" stroke-width="0.25" textLength="4.53" lengthAdjust="spacingAndGlyphs">0</text>
<line x1="460.1" y1="560" x2="460.1" y2="562.2" stroke="#444" stroke-width="1"/>
<text x="460.1" y="572.7" font-size="8.5" text-anchor="middle" fill="#111" stroke="#111" stroke-width="0.25" textLength="11.33" lengthAdjust="spacingAndGlyphs">0,2</text>
<line x1="514.9" y1="560" x2="514.9" y2="562.2" stroke="#444" stroke-width="1"/>
<text x="514.9" y="572.7" font-size="8.5" text-anchor="middle" fill="#111" stroke="#111" stroke-width="0.25" textLength="11.33" lengthAdjust="spacingAndGlyphs">0,4</text>
<line x1="569.7" y1="560" x2="569.7" y2="562.2" stroke="#444" stroke-width="1"/>
<text x="569.7" y="572.7" font-size="8.5" text-anchor="middle" fill="#111" stroke="#111" stroke-width="0.25" textLength="11.33" lengthAdjust="spacingAndGlyphs">0,6</text>
<line x1="624.5" y1="560" x2="624.5" y2="562.2" stroke="#444" stroke-width="1"/>
<text x="624.5" y="572.7" font-size="8.5" text-anchor="middle" fill="#111" stroke="#111" stroke-width="0.25" textLength="11.33" lengthAdjust="spacingAndGlyphs">0,8</text>
<line x1="679.3" y1="560" x2="679.3" y2="562.2" stroke="#444" stroke-width="1"/>
<text x="679.3" y="572.7" font-size="8.5" text-anchor="middle" fill="#111" stroke="#111" stroke-width="0.25" textLength="4.53" lengthAdjust="spacingAndGlyphs">1</text>
<polyline points="405.3,560 408.3,553.08 411.3,546.6 414.3,540.52 417.3,534.79 420.3,529.4 423.3,524.31 426.3,519.5 429.3,514.94 432.3,510.62 435.3,506.52 438.3,502.62 441.3,498.9 444.3,495.36 447.3,491.98 450.3,488.76 453.3,485.67 456.31,482.72 459.31,479.89 462.31,477.18 465.31,474.57 468.31,472.07 471.31,469.67 474.31,467.36 477.31,465.13 480.31,462.99 483.31,460.92 486.31,458.92 489.31,457 492.31,455.14 495.31,453.34 498.31,451.6 501.31,449.92 504.31,448.29 507.31,446.71 510.31,445.18 513.31,443.7 516.31,442.26 519.31,440.87 522.31,439.52 525.31,438.2 528.31,436.92 531.31,435.68 534.31,434.47 537.31,433.3 540.31,432.15 543.31,431.04 546.31,429.95 549.31,428.9 552.31,427.87 555.32,426.86 558.32,425.88 561.32,424.93 564.32,424 567.32,423.09 570.32,422.2 573.32,421.33 576.32,420.48 579.32,419.65 582.32,418.84 585.32,418.05 588.32,417.28 591.32,416.52 594.32,415.78 597.32,415.06 600.32,414.35 603.32,413.65 606.32,412.97 609.32,412.3 612.32,411.65 615.32,411.01 618.32,410.38 621.32,409.77 624.32,409.17 627.32,408.58 630.32,408 633.32,407.43 636.32,406.87 639.32,406.32 642.32,405.78 645.32,405.26" fill="none" stroke="#111" stroke-width="1.3" stroke-dasharray="3,2.3"/>
<line x1="429.5" y1="516.7" x2="429.5" y2="527.2" stroke="#777" stroke-width="1.2"/>
<line x1="427.5" y1="516.7" x2="431.5" y2="516.7" stroke="#555" stroke-width="1.1"/>
<line x1="427.5" y1="527.2" x2="431.5" y2="527.2" stroke="#555" stroke-width="1.1"/>
<line x1="436" y1="496.4" x2="436" y2="511.9" stroke="#777" stroke-width="1.2"/>
<line x1="434" y1="496.4" x2="438" y2="496.4" stroke="#555" stroke-width="1.1"/>
<line x1="434" y1="511.9" x2="438" y2="511.9" stroke="#555" stroke-width="1.1"/>
<line x1="465.5" y1="472.6" x2="465.5" y2="484.7" stroke="#777" stroke-width="1.2"/>
<line x1="463.5" y1="472.6" x2="467.5" y2="472.6" stroke="#555" stroke-width="1.1"/>
<line x1="463.5" y1="484.7" x2="467.5" y2="484.7" stroke="#555" stroke-width="1.1"/>
<line x1="525.2" y1="429.3" x2="525.2" y2="435.9" stroke="#777" stroke-width="1.2"/>
<line x1="523.2" y1="429.3" x2="527.2" y2="429.3" stroke="#555" stroke-width="1.1"/>
<line x1="523.2" y1="435.9" x2="527.2" y2="435.9" stroke="#555" stroke-width="1.1"/>
<line x1="645.3" y1="405.5" x2="645.3" y2="411.8" stroke="#777" stroke-width="1.2"/>
<line x1="643.3" y1="405.5" x2="647.3" y2="405.5" stroke="#555" stroke-width="1.1"/>
<line x1="643.3" y1="411.8" x2="647.3" y2="411.8" stroke="#555" stroke-width="1.1"/>
<path d="M405.3 553.87L407.7 556.1L405.3 558.33L402.9 556.1Z" fill="#000"/>
<path d="M429.5 519.97L431.9 522.2L429.5 524.43L427.1 522.2Z" fill="#000"/>
<path d="M436 502.27L438.4 504.5L436 506.73L433.6 504.5Z" fill="#000"/>
<path d="M445.8 491.07L448.2 493.3L445.8 495.53L443.4 493.3Z" fill="#000"/>
<path d="M465.5 476.07L467.9 478.3L465.5 480.53L463.1 478.3Z" fill="#000"/>
<path d="M525.2 430.17L527.6 432.4L525.2 434.63L522.8 432.4Z" fill="#000"/>
<path d="M645.3 406.27L647.7 408.5L645.3 410.73L642.9 408.5Z" fill="#000"/>
<path d="M588.7 483.55L590.8 485.5L588.7 487.45L586.6 485.5Z" fill="#000"/>
<text x="603.6" y="488.1" font-size="8.5" text-anchor="start" fill="#111" stroke="#111" stroke-width="0.25" textLength="55.4" lengthAdjust="spacingAndGlyphs">measured data</text>
<line x1="576.6" y1="500.1" x2="598.5" y2="500.1" stroke="#111" stroke-width="1.3" stroke-dasharray="3.5,2.63"/>
<text x="602.8" y="502.7" font-size="8.5" text-anchor="start" fill="#111" stroke="#111" stroke-width="0.25" textLength="14.6" lengthAdjust="spacingAndGlyphs">Y f&#8204;it</text>
<text x="542.05" y="586.6" font-size="9.3" text-anchor="middle" fill="#111" font-weight="bold" textLength="57.9" lengthAdjust="spacingAndGlyphs">c pNPO [mM]</text>
<text transform="translate(380.2,517.8) rotate(-90)" font-size="9.3" font-weight="bold" fill="#111" textLength="74" lengthAdjust="spacingAndGlyphs">v [µmol min<tspan font-size="5.5" dy="-3">-1</tspan><tspan dy="3"> L</tspan><tspan font-size="5.5" dy="-3">-1</tspan><tspan dy="3">]</tspan></text>
<text transform="translate(346.7,414.7) scale(1,1.08)" font-size="16.8" font-weight="bold" fill="#000">F</text>
</svg>
</body></html>
